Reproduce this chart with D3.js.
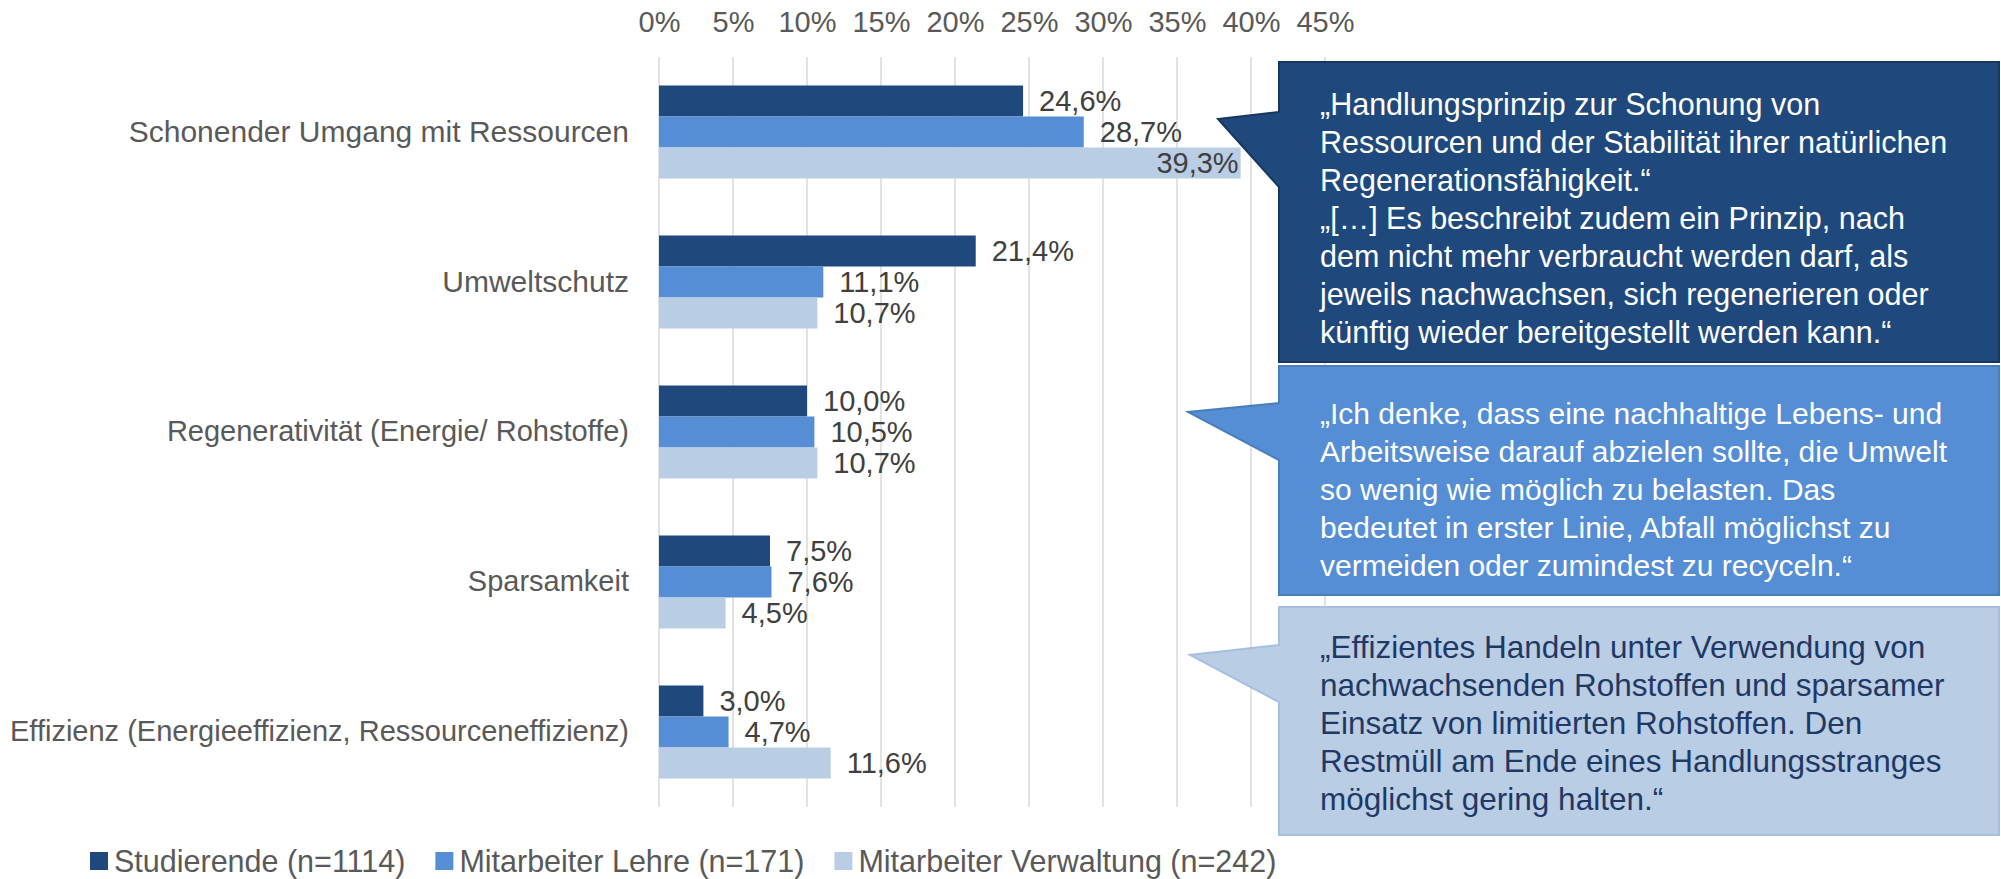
<!DOCTYPE html>
<html>
<head>
<meta charset="utf-8">
<script src="https://cdn.jsdelivr.net/npm/d3@7"></script>
<style>
  body { margin: 0; background: #fff; }
  text { font-family: "Liberation Sans", Arial, sans-serif; }
</style>
</head>
<body>
<div id="chart"></div>
<script>
// data
var categories = [
  "Schonender Umgang mit Ressourcen",
  "Umweltschutz",
  "Regenerativität (Energie/ Rohstoffe)",
  "Sparsamkeit",
  "Effizienz (Energieeffizienz, Ressourceneffizienz)"
];
var seriesNames = ["Studierende (n=1114)", "Mitarbeiter Lehre (n=171)", "Mitarbeiter Verwaltung (n=242)"];
var studierende = [24.6, 21.4, 10.0, 7.5, 3.0];
var lehre = [28.7, 11.1, 10.5, 7.6, 4.7];
var verwaltung = [39.3, 10.7, 10.7, 4.5, 11.6];
var tickValues = [0, 5, 10, 15, 20, 25, 30, 35, 40, 45];

var quote1 = [
  "„Handlungsprinzip zur Schonung von",
  "Ressourcen und der Stabilität ihrer natürlichen",
  "Regenerationsfähigkeit.“",
  "„[…] Es beschreibt zudem ein Prinzip, nach",
  "dem nicht mehr verbraucht werden darf, als",
  "jeweils nachwachsen, sich regenerieren oder",
  "künftig wieder bereitgestellt werden kann.“"
];
var quote2 = [
  "„Ich denke, dass eine nachhaltige Lebens- und",
  "Arbeitsweise darauf abzielen sollte, die Umwelt",
  "so wenig wie möglich zu belasten. Das",
  "bedeutet in erster Linie, Abfall möglichst zu",
  "vermeiden oder zumindest zu recyceln.“"
];
var quote3 = [
  "„Effizientes Handeln unter Verwendung von",
  "nachwachsenden Rohstoffen und sparsamer",
  "Einsatz von limitierten Rohstoffen. Den",
  "Restmüll am Ende eines Handlungsstranges",
  "möglichst gering halten.“"
];

var colors = ["#1F497D", "#558ED5", "#B9CDE5"];

var svgWidth = 2001;
var svgHeight = 879;

var svg = d3.select("#chart")
  .append("svg")
  .attr("width", svgWidth)
  .attr("height", svgHeight);

// build rows for the grouped bars
var seriesValues = [studierende, lehre, verwaltung];
var rows = categories.map(function(c, i) {
  return { cat: c, vals: seriesValues.map(function(s, j) { return { key: j, value: s[i] }; }) };
});

var xScale = d3.scaleLinear().domain([0, 45]).range([659, 1325]);
var yScale = d3.scaleBand().domain(categories).range([57, 807])
  .paddingInner(0.38).paddingOuter(0.19);
var ySub = d3.scaleBand().domain([0, 1, 2]).range([0, yScale.bandwidth()]);

var de = d3.formatLocale({ decimal: ",", thousands: ".", grouping: [3], currency: ["", " €"] });
var fmt = de.format(".1f");

// gridlines
svg.append("g")
  .selectAll("line")
  .data(tickValues)
  .enter()
  .append("line")
  .attr("x1", d => xScale(d))
  .attr("x2", d => xScale(d))
  .attr("y1", 57)
  .attr("y2", 807)
  .attr("stroke", "#d9d9d9")
  .attr("stroke-width", 1.5);

// top axis labels
var topAxis = d3.axisTop(xScale)
  .tickValues(tickValues)
  .tickSize(0)
  .tickPadding(0)
  .tickFormat(d => d + "%");
var xAxis = svg.append("g")
  .attr("transform", "translate(0, 32)")
  .call(topAxis);
xAxis.select(".domain").remove();
xAxis.selectAll("text")
  .attr("font-family", "Liberation Sans, Arial, sans-serif")
  .attr("font-size", "29px")
  .attr("fill", "#595959");

// category labels (first two are set in a slightly larger face in the original)
var leftAxis = d3.axisLeft(yScale).tickSize(0).tickPadding(0);
var yAxis = svg.append("g")
  .attr("transform", "translate(629, 0)")
  .call(leftAxis);
yAxis.select(".domain").remove();
yAxis.selectAll("text")
  .attr("font-family", "Liberation Sans, Arial, sans-serif")
  .attr("font-size", (d, i) => i < 2 ? "30px" : "29px")
  .attr("fill", "#595959");

// bars
var groups = svg.append("g")
  .selectAll("g")
  .data(rows)
  .enter()
  .append("g")
  .attr("transform", d => `translate(0, ${yScale(d.cat)})`);

groups.selectAll("rect")
  .data(d => d.vals)
  .enter()
  .append("rect")
  .attr("x", xScale(0))
  .attr("y", d => ySub(d.key))
  .attr("width", d => xScale(d.value) - xScale(0))
  .attr("height", ySub.bandwidth())
  .attr("fill", d => colors[d.key]);

groups.selectAll("text")
  .data(d => d.vals)
  .enter()
  .append("text")
  .attr("x", d => xScale(d.value) + 16)
  .attr("y", d => ySub(d.key) + ySub.bandwidth() / 2)
  .attr("dy", "0.36em")
  .attr("font-size", "29px")
  .attr("fill", "#404040")
  .text(d => fmt(d.value) + "%")
  .each(function(d) {
    // labels that would run past the plot go inside the bar end
    var w = this.getComputedTextLength();
    if (xScale(d.value) + 16 + w > xScale(45)) {
      d3.select(this).attr("x", xScale(d.value) - 2).attr("text-anchor", "end");
    }
  });

// callouts
function callout(box, lines, textColor) {
  var p = `M${box.x0},${box.y0} H${box.x1} V${box.y1} H${box.x0} V${box.tb} ` +
          `L${box.tipX},${box.tipY} L${box.x0},${box.tt} Z`;
  svg.append("path")
    .attr("d", p)
    .attr("fill", box.fill)
    .attr("stroke", box.stroke)
    .attr("stroke-width", 2);
  svg.append("g")
    .selectAll("text")
    .data(lines)
    .enter()
    .append("text")
    .attr("x", 1320)
    .attr("y", (d, i) => box.first + i * 38)
    .attr("dy", "0.36em")
    .attr("font-size", box.size)
    .attr("fill", textColor)
    .text(d => d);
}

callout({ x0: 1279, x1: 1999, y0: 62, y1: 362, tt: 112, tb: 187, tipX: 1218, tipY: 119,
          fill: "#1F497D", stroke: "#17375E", first: 104, size: "30.5px" }, quote1, "#ffffff");
callout({ x0: 1279, x1: 1999, y0: 366, y1: 595, tt: 403, tb: 460, tipX: 1188, tipY: 412,
          fill: "#558ED5", stroke: "#4A7EBB", first: 413, size: "30px" }, quote2, "#ffffff");
callout({ x0: 1279, x1: 1999, y0: 607, y1: 835, tt: 645, tb: 702, tipX: 1190, tipY: 655,
          fill: "#B9CDE5", stroke: "#A7BFDE", first: 647, size: "31.5px" }, quote3, "#1F3864");

// legend
var legend = svg.append("g").attr("transform", "translate(90, 861)");
var lx = 0;
seriesNames.forEach(function(name, i) {
  var item = legend.append("g").attr("transform", `translate(${lx}, 0)`);
  item.append("rect")
    .attr("x", 0)
    .attr("y", -9)
    .attr("width", 18)
    .attr("height", 18)
    .attr("fill", colors[i]);
  var t = item.append("text")
    .attr("x", 24)
    .attr("dy", "0.36em")
    .attr("font-size", "30.5px")
    .attr("fill", "#595959")
    .text(name);
  lx += 24 + t.node().getComputedTextLength() + 30;
});
</script>
</body>
</html>
